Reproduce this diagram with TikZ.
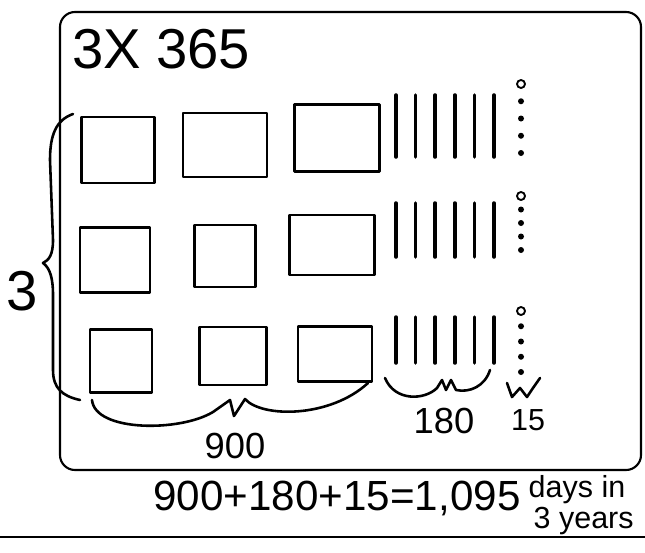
\documentclass[tikz,border=0pt]{standalone}
\usepackage{fontspec}
\setmainfont{Liberation Sans}
\usepackage{tikz}
\usetikzlibrary{positioning}

\tikzset{
  frame/.style={line width=1.8pt, rounded corners=0.45cm},
  hsq/.style={draw, line width=2.5pt, inner sep=0pt, outer sep=0pt},
  tenline/.style={line width=3pt, line cap=round},
  onedot/.style={line width=1.6pt},
  handbrace/.style={line width=2.2pt, line cap=round, line join=round},
  lbl/.style={inner sep=0pt, outer sep=0pt}
}

\begin{document}
\begin{tikzpicture}[x=0.03cm, y=-0.03cm, line cap=round, line join=round]
      \useasboundingbox (0,0) rectangle (645,552);
      \draw[frame] (60,12) rectangle (641,470);
      \node[lbl, anchor=base west, font=\fontsize{48}{50}\selectfont] (title) at (72,68) {3X 365};
      % hundreds
      \foreach \n/\x/\y/\w/\h in {h1a/118/150/73/66, h1b/225/145/84/64, h1c/337/138/85/67,
                                  h2a/115/260/70/65, h2b/225/256/61/62, h2c/332/245/85/60,
                                  h3a/121/361/62/63, h3b/233/356/67/58, h3c/335/354/74/55} {
        \node[hsq, minimum width=\w*0.03cm, minimum height=\h*0.03cm] (\n) at (\x,\y) {};
      }
      % tens
      \foreach \t/\b in {95/157, 203/257, 317/363} {
        \foreach \k in {0,...,5}
          \draw[tenline] ({396+19.6*\k},\t) -- ({396+19.6*\k},\b);
      }
      % ones
      \foreach \t/\b in {84/153, 196/250, 311/372} {
        \draw[onedot] (521,\t) circle (4);
        \foreach \k in {1,...,4}
          \fill (521,{\t+(\b-\t)*\k/4}) circle (3);
      }
      % braces
      \draw[handbrace] (73,114) .. controls (56,120) and (50,135) .. (50,160) -- (53,240)
        .. controls (53,255) and (49,260) .. (43,263) .. controls (50,268) and (53,278) .. (53,295)
        -- (53,370) .. controls (53,388) and (62,396) .. (80,400);
      \draw[handbrace] (92,400) .. controls (95,432) and (180,432) .. (213,412) -- (230,400)
        -- (234,416) -- (245,399) .. controls (262,418) and (330,418) .. (368,383);
      \draw[handbrace] (385,378) .. controls (395,402) and (425,400) .. (437,388) -- (442,380)
        -- (446,390) -- (451,380) -- (456,390) .. controls (470,393) and (485,386) .. (490,370);
      \draw[handbrace] (507,383) -- (512,397) -- (520,388) -- (527,397) -- (533,388) -- (540,378);
      \node[lbl, font=\fontsize{48}{50}\selectfont] (three) at (22,291) {3};
      \node[lbl, anchor=base, font=\fontsize{31}{33}\selectfont] (n900) at (235,458) {900};
      \node[lbl, anchor=base, font=\fontsize{31}{33}\selectfont] (n180) at (444,433) {180};
      \node[lbl, anchor=base, font=\fontsize{26}{28}\selectfont] (n15) at (528,430) {15};
      % sum under the frame
      \node[lbl, anchor=base, font=\fontsize{36}{38}\selectfont] (sum) at (337,510) {900+180+15=1,095};
      \node[lbl, anchor=base, font=\fontsize{26}{28}\selectfont] (days) at (577,497) {days in};
      \node[lbl, below=0.12cm of days, xshift=0.2cm, font=\fontsize{26}{28}\selectfont] (years) {3 years};
      \draw[line width=1.6pt] (0,537) -- (645,537);
    \end{tikzpicture}
\end{document}
